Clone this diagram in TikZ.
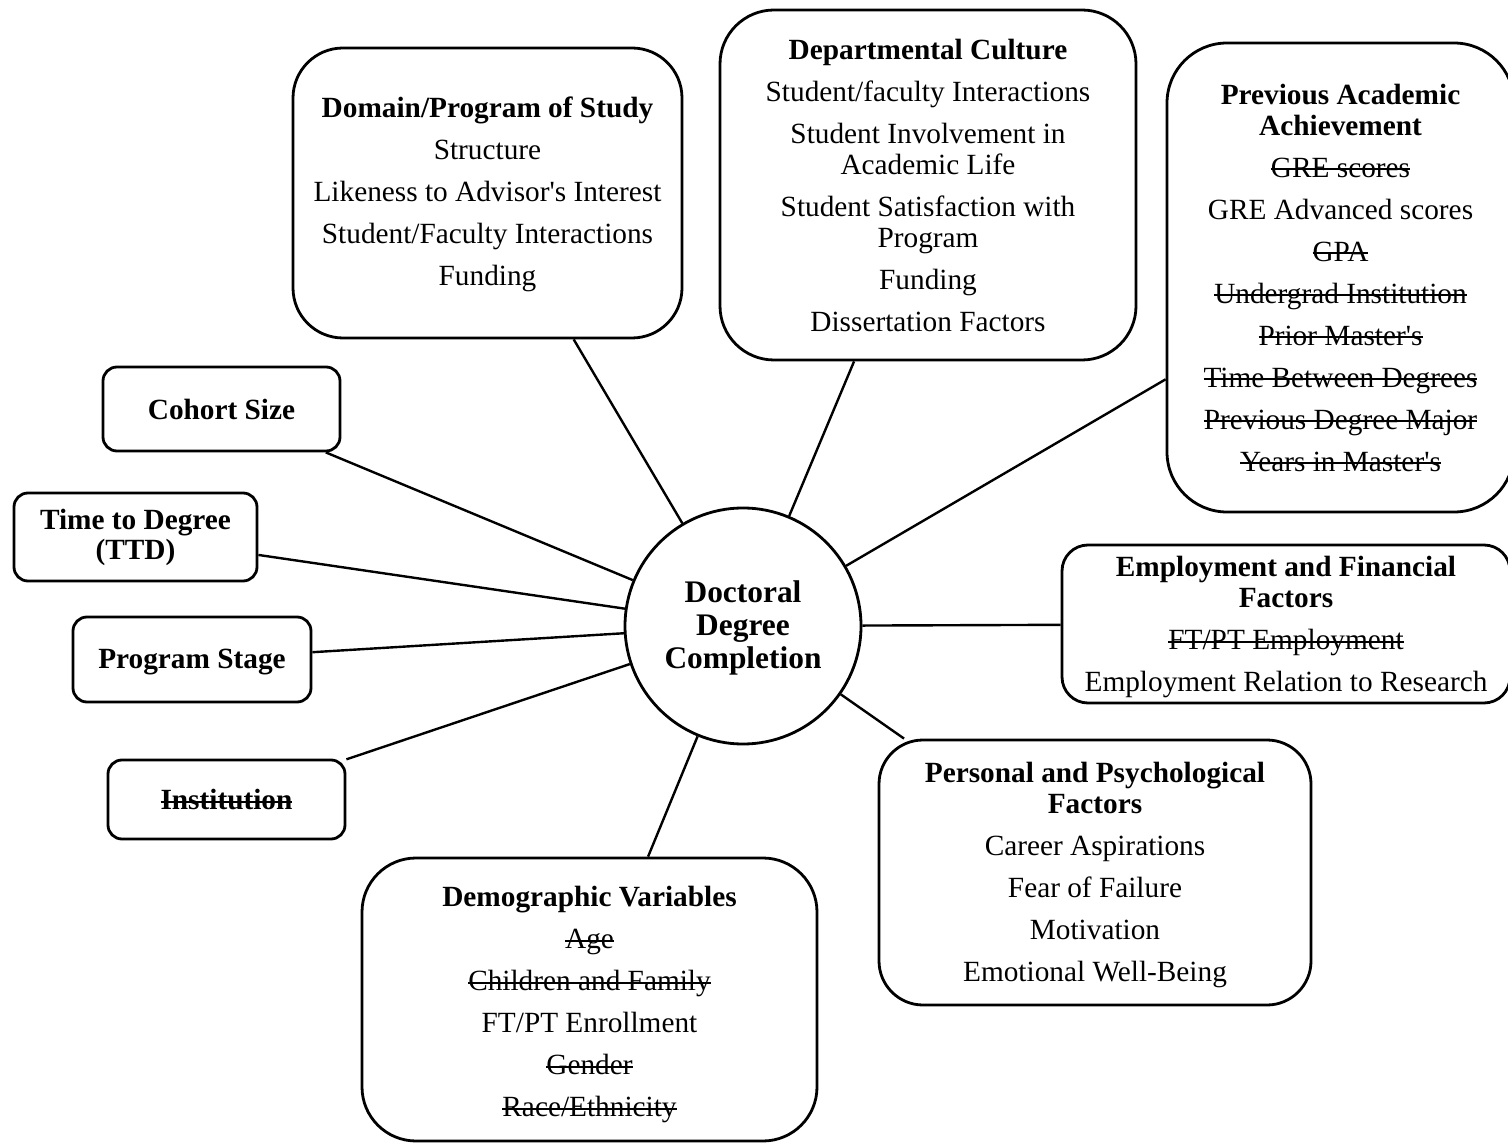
\documentclass[tikz,border=0pt]{standalone}
\usepackage{fontspec}
\setmainfont{Liberation Serif}
\newcommand\stk[1]{\setbox0\hbox{#1}\rlap{\copy0}\rule[0.23em]{\wd0}{0.065em}}
\newcommand\fs{\fontsize{14.65}{15.5}\selectfont}
\newcommand\ap{\textquotesingle}
\newcommand\tp[1]{\rule{0pt}{#1}}
\begin{document}
\begin{tikzpicture}[x=0.5pt,y=-0.5pt,
  box/.style={draw, line width=1.4pt, inner sep=0pt, align=center, font=\fs},
  conn/.style={line width=1.2pt}]
\useasboundingbox (0,0) rectangle (1508,1143);
\node[circle, draw, line width=1.4pt, minimum size=118pt, inner sep=0pt, align=center,
  font=\bfseries\fontsize{15.7}{16.5}\selectfont] (c) at (743,626) {\tp{12.7pt}Doctoral\\Degree\\Completion};

\node[box, rounded corners=25pt, minimum width=194.5pt, minimum height=145pt] (dom) at (487.5,193)
 {\tp{12pt}\textbf{Domain/Program of Study}\\[5.5pt]Structure\\[5.5pt]Likeness to Advisor\ap s Interest\\[5.5pt]Student/Faculty Interactions\\[5.5pt]Funding};

\node[box, rounded corners=27pt, minimum width=208pt, minimum height=175pt] (dep) at (928,185)
 {\tp{11pt}\textbf{Departmental Culture}\\[5.5pt]Student/faculty Interactions\\[5.5pt]Student Involvement in\\Academic Life\\[5.5pt]Student Satisfaction with\\Program\\[5.5pt]Funding\\[5.5pt]Dissertation Factors};

\node[box, rounded corners=30pt, minimum width=173.5pt, minimum height=234.5pt] (pre) at (1340.5,277.5)
 {\textbf{Previous Academic}\\\textbf{Achievement}\\[5.5pt]\stk{GRE scores}\\[5.5pt]GRE Advanced scores\\[5.5pt]\stk{GPA}\\[5.5pt]\stk{Undergrad Institution}\\[5.5pt]\stk{Prior Master\ap s}\\[5.5pt]\stk{Time Between Degrees}\\[5.5pt]\stk{Previous Degree Major}\\[5.5pt]\stk{Years in Master\ap s}};

\node[box, rounded corners=13pt, minimum width=224pt, minimum height=79pt] (emp) at (1286,624)
 {\tp{13pt}\textbf{Employment and Financial}\\\textbf{Factors}\\[5.5pt]\stk{FT/PT Employment}\\[5.5pt]Employment Relation to Research};

\node[box, rounded corners=22pt, minimum width=216pt, minimum height=132.5pt] (per) at (1095,872.5)
 {\tp{13pt}\textbf{Personal and Psychological}\\\textbf{Factors}\\[5.5pt]Career Aspirations\\[5.5pt]Fear of Failure\\[5.5pt]Motivation\\[5.5pt]Emotional Well-Being};

\node[box, rounded corners=27pt, minimum width=227.5pt, minimum height=141.5pt] (dem) at (589.5,999.5)
 {\tp{15pt}\textbf{Demographic Variables}\\[5.5pt]\stk{Age}\\[5.5pt]\stk{Children and Family}\\[5.5pt]FT/PT Enrollment\\[5.5pt]\stk{Gender}\\[5.5pt]\stk{Race/Ethnicity}};

\node[box, rounded corners=7pt, minimum width=118.5pt, minimum height=42pt] (coh) at (221.5,409) {\textbf{Cohort Size}};
\node[box, rounded corners=7pt, minimum width=121.5pt, minimum height=44pt] (ttd) at (135.5,537) {\textbf{Time to Degree}\\[-0.5pt]\textbf{(TTD)}};
\node[box, rounded corners=7pt, minimum width=119pt, minimum height=42.5pt] (pst) at (192,659.5) {\tp{12.5pt}\textbf{Program Stage}};
\node[box, rounded corners=7pt, minimum width=118.5pt, minimum height=39.5pt] (ins) at (226.5,799.5) {\textbf{\stk{Institution}}};

\draw[conn] (c) -- (dom);
\draw[conn] (c) -- (dep);
\draw[conn] (c) -- (pre);
\draw[conn] (c) -- (emp);
\draw[conn] (c) -- (per);
\draw[conn] (c) -- (dem);
\draw[conn] (c) -- (coh);
\draw[conn] (c) -- (ttd);
\draw[conn] (c) -- (pst);
\draw[conn] (c) -- (ins);
\end{tikzpicture}
\end{document}
